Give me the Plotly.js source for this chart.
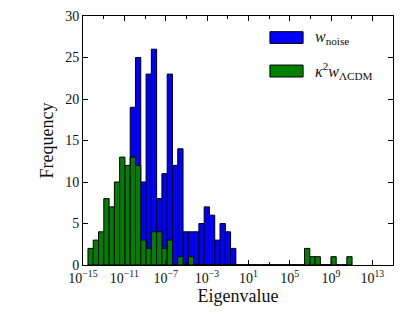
<!DOCTYPE html>
<html>
<head>
<meta charset="utf-8">
<script src="https://cdn.plot.ly/plotly-3.0.1.min.js"></script>
<style>
  html, body { margin: 0; padding: 0; background: #fff; }
  #chart { width: 415px; height: 332px; }
</style>
</head>
<body>
<div id="chart"></div>
<script>
// 고유값 히스토그램 — log10 구간 50개
const BIN_LO = -14.52;   // log10 of first bin edge
const BIN_HI = 11.04;    // log10 of last bin edge
const N_BINS = 50;

const noiseCounts = [
  0, 0, 0, 0, 0, 0, 0, 0, 19, 25,
  10, 23, 26, 8, 11, 23, 12, 14, 4, 4,
  4, 5, 7, 6, 3, 5, 4, 2, 0, 0,
  0, 0, 0, 0, 0, 0, 0, 0, 0, 0,
  0, 0, 0, 0, 0, 0, 0, 0, 0, 0,
];
const lcdmCounts = [
  2, 3, 4, 8, 7, 10, 13, 12, 13, 12,
  3, 2, 4, 4, 2, 3, 0, 1, 0, 1,
  0, 0, 0, 0, 0, 0, 0, 0, 0, 0,
  0, 0, 0, 0, 0, 0, 0, 0, 0, 0,
  0, 2, 1, 1, 0, 0, 1, 0, 0, 1,
];

const majorExp = [-15, -11, -7, -3, 1, 5, 9, 13];
const minorExp = [-13, -9, -5, -1, 3, 7, 11];
const majorText = majorExp.map(e => `10<sup>${e < 0 ? '\u2212' + (-e) : e}</sup>`);

const binW = (BIN_HI - BIN_LO) / N_BINS;
const centers = noiseCounts.map((_, i) => BIN_LO + binW * (i + 0.5));

const SERIF = 'Liberation Serif, DejaVu Serif, serif';

const traces = [
  {
    type: 'bar', x: centers, y: noiseCounts, width: binW,
    marker: { color: '#0000ff', line: { color: '#000', width: 1 } },
    name: 'w_noise', showlegend: false, hoverinfo: 'skip',
  },
  {
    type: 'bar', x: centers, y: lcdmCounts, width: binW,
    marker: { color: '#008000', line: { color: '#000', width: 1 } },
    name: 'k2 w_LCDM', showlegend: false, hoverinfo: 'skip',
  },
];

const layout = {
  width: 415, height: 332,
  margin: { l: 83, r: 22, t: 16, b: 67 },
  paper_bgcolor: '#fff', plot_bgcolor: '#fff',
  font: { family: SERIF, color: '#111', size: 13 },
  barmode: 'overlay', bargap: 0,
  xaxis: {
    range: [-15, 15],
    tickmode: 'array', tickvals: majorExp, ticktext: majorText,
    ticks: 'inside', ticklen: 5, tickcolor: '#000',
    minor: { tickmode: 'array', tickvals: minorExp, ticks: 'inside', ticklen: 3, tickcolor: '#000' },
    showline: true, linecolor: '#000', linewidth: 1, mirror: 'ticks',
    showgrid: false, zeroline: false,
    tickfont: { size: 14 },
    title: { text: 'Eigenvalue', font: { size: 18 }, standoff: 4 },
  },
  yaxis: {
    range: [0, 30], dtick: 5,
    ticks: 'inside', ticklen: 5, tickcolor: '#000',
    showline: true, linecolor: '#000', linewidth: 1, mirror: 'ticks',
    showgrid: false, zeroline: false,
    tickfont: { size: 14 },
    title: { text: 'Frequency', font: { size: 18 }, standoff: 6 },
  },
  // 범례 (matplotlib 스타일, 테두리 없음)
  shapes: [
    { type: 'rect', xref: 'paper', yref: 'paper', x0: 0.603, x1: 0.71, y0: 0.890, y1: 0.937,
      fillcolor: '#0000ff', line: { color: '#000', width: 1 } },
    { type: 'rect', xref: 'paper', yref: 'paper', x0: 0.603, x1: 0.71, y0: 0.755, y1: 0.803,
      fillcolor: '#008000', line: { color: '#000', width: 1 } },
  ],
  annotations: [
    { xref: 'paper', yref: 'paper', x: 0.742, y: 0.913, xanchor: 'left', yanchor: 'middle',
      showarrow: false, font: { size: 16 }, text: '<i>w</i><sub>noise</sub>' },
    { xref: 'paper', yref: 'paper', x: 0.742, y: 0.779, xanchor: 'left', yanchor: 'middle',
      showarrow: false, font: { size: 16 }, text: '<i>κ</i><sup>2</sup><i>w</i><sub>ΛCDM</sub>' },
  ],
};

Plotly.newPlot('chart', traces, layout, { displayModeBar: false, staticPlot: true });
</script>
</body>
</html>
